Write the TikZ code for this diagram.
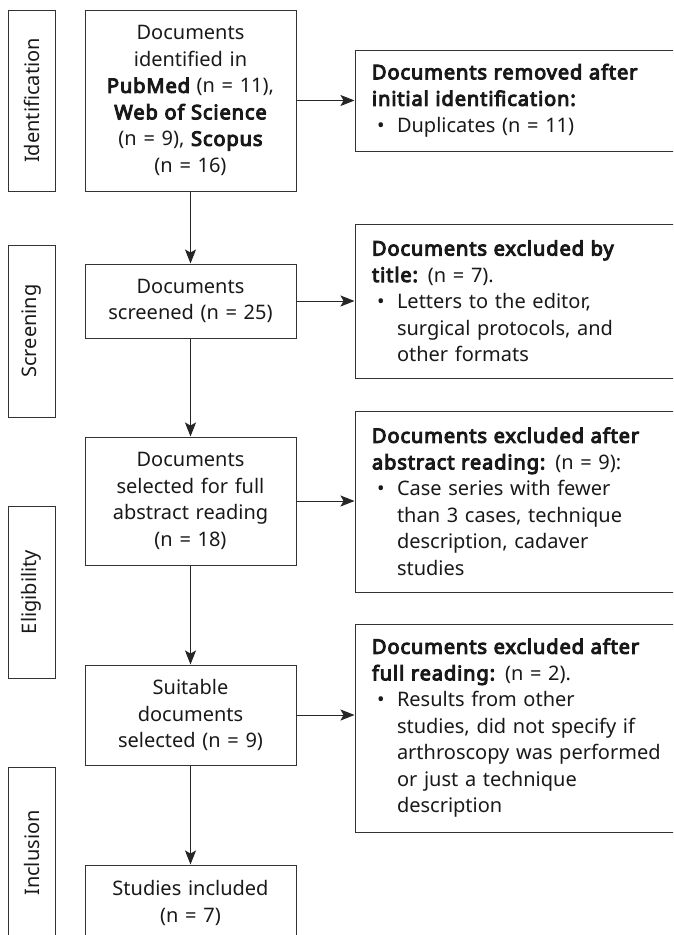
\documentclass[tikz,border=0pt]{standalone}
\usepackage{fontspec}
\setmainfont{Noto Sans}[AutoFakeBold=5]
\usetikzlibrary{arrows.meta}

\newcommand{\hb}[1]{{\bfseries\addfontfeature{LetterSpace=4.5}#1}}
\newcommand{\bul}{\makebox[25pt][l]{\hspace{5pt}\textbullet}}
\newcommand{\ind}{\hspace*{25pt}}

\begin{document}
\begin{tikzpicture}[x=1pt,y=-1pt,
  every node/.style={font=\fontsize{20}{26.5}\selectfont, text=black!90},
  mainbox/.style={draw=black!80, line width=1pt, minimum width=211pt, text width=200pt, inner sep=0pt, align=center},
  stagebox/.style={draw=black!80, line width=1pt, rotate=90, minimum height=47pt, inner sep=0pt},
  sidebox/.style={draw=black!80, line width=1pt, minimum width=335pt, text width=301pt, inner sep=0pt, align=left},
  flow/.style={line width=1pt, draw=black!85, -{Stealth[length=14pt,width=11pt,inset=3pt]}}]
\useasboundingbox (0,0) rectangle (673,935);
\clip (0,0) rectangle (673,935);

\node[stagebox, minimum width=181pt] (s1) at (31.5,100.5) {Identification};
\node[stagebox, minimum width=172pt] (s2) at (31.5,331) {Screening};
\node[stagebox, minimum width=172pt] (s3) at (31.5,592) {Eligibility};
\node[stagebox, minimum width=172pt] (s4) at (31.5,853) {Inclusion};

\node[mainbox, minimum height=181pt] (m1) at (190.5,100.5) {Documents\\ identified in\\ \hb{PubMed} (n = 11),\\ \hb{Web of Science}\\ (n = 9), \hb{Scopus}\\ (n = 16)};
\node[mainbox, minimum height=74pt] (m2) at (190.5,301) {Documents\\ screened (n = 25)};
\node[mainbox, minimum height=128pt] (m3) at (190.5,501) {Documents\\ selected for full\\ abstract reading\\ (n = 18)};
\node[mainbox, minimum height=100pt] (m4) at (190.5,715) {Suitable\\ documents\\ selected (n = 9)};
\node[mainbox, minimum height=76pt] (m5) at (190.5,903) {Studies included\\ (n = 7)};

\node[sidebox, minimum height=101pt] (r1) at (522.5,100.5) {\hb{Documents removed after}\\ \hb{initial identification:}\\ \bul Duplicates (n = 11)};
\node[sidebox, minimum height=154pt] (r2) at (522.5,301) {\hb{Documents excluded by}\\ \hb{title:} (n = 7).\\ \bul Letters to the editor,\\ \ind surgical protocols, and\\ \ind other formats};
\node[sidebox, minimum height=181pt] (r3) at (522.5,501.5) {\hb{Documents excluded after}\\ \hb{abstract reading:} (n = 9):\\ \bul Case series with fewer\\ \ind than 3 cases, technique\\ \ind description, cadaver\\ \ind studies};
\node[sidebox, minimum height=208pt] (r4) at (522.5,728) {\hb{Documents excluded after}\\ \hb{full reading:} (n = 2).\\ \bul Results from other\\ \ind studies, did not specify if\\ \ind arthroscopy was performed\\ \ind or just a technique\\ \ind description};

\draw[flow] (m1) -- (m2);
\draw[flow] (m2) -- (m3);
\draw[flow] (m3) -- (m4);
\draw[flow] (m4) -- (m5);
\draw[flow] (m1.east) -- (m1.east -| r1.west);
\draw[flow] (m2.east) -- (m2.east -| r2.west);
\draw[flow] (m3.east) -- (m3.east -| r3.west);
\draw[flow] (m4.east) -- (m4.east -| r4.west);
\end{tikzpicture}
\end{document}
